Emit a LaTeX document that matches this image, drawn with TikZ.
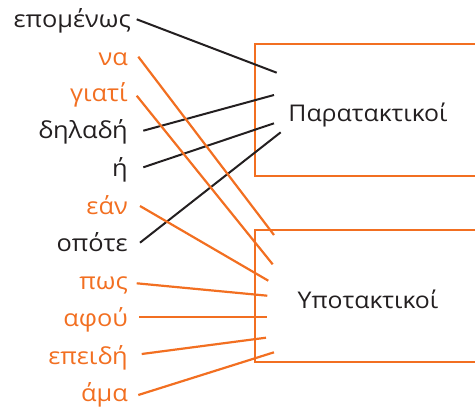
\documentclass[tikz,border=0pt]{standalone}
\usepackage{fontspec}
\setmainfont{Open Sans}[FakeStretch=1.08]
\definecolor{or}{HTML}{F26F21}
\definecolor{bk}{HTML}{231F20}
\begin{document}
\begin{tikzpicture}[x=1pt,y=-1pt,
  word/.style={anchor=base east,inner sep=0pt,font=\fontsize{23.5}{28}\selectfont},
  bw/.style={word,text=bk},
  ow/.style={word,text=or},
  bline/.style={draw=bk,line width=2pt},
  oline/.style={draw=or,line width=2.2pt},
  boxlbl/.style={text=bk,font=\fontsize{23}{28}\selectfont,inner sep=0pt}]
\useasboundingbox (0,0) rectangle (475,408);
% boxes
\draw[or,line width=2.2pt] (255,44) rectangle (480,175.7);
\draw[or,line width=2.2pt] (255,230.3) rectangle (480,362.3);
\node[boxlbl,anchor=base] (para) at (368,121.7) {Παρατακτικοί};
\node[boxlbl,anchor=base] (ypo) at (368,308) {Υποτακτικοί};
% words
\node[bw] (w1) at (131,27) {επομένως};
\node[ow] (w2) at (128,65) {να};
\node[ow] (w3) at (128,101) {γιατί};
\node[bw] (w4) at (128,138) {δηλαδή};
\node[bw] (w5) at (128,176) {ή};
\node[ow] (w6) at (128,214) {εάν};
\node[bw] (w7) at (128,251.5) {οπότε};
\node[ow] (w8) at (128,289.5) {πως};
\node[ow] (w9) at (128,326.5) {αφού};
\node[ow] (w10) at (128,364.5) {επειδή};
\node[ow] (w11) at (128,401.5) {άμα};
% connector ends
\coordinate (s1) at (136.7,19.3);  \coordinate (e1) at (276.7,72.7);
\coordinate (s4) at (143.3,130.7); \coordinate (e4) at (274,95);
\coordinate (s5) at (143.3,167.3); \coordinate (e5) at (274,123.3);
\coordinate (s7) at (140,242.7);   \coordinate (e7) at (280.7,132.3);
\coordinate (s2) at (138.3,56.7);  \coordinate (e2) at (274,235);
\coordinate (s3) at (136.7,95.7);  \coordinate (e3) at (272.7,264.3);
\coordinate (s6) at (140,206);     \coordinate (e6) at (268.3,280.7);
\coordinate (s8) at (136.7,283.3); \coordinate (e8) at (267.3,295.7);
\coordinate (s9) at (139.3,316.7); \coordinate (e9) at (267.3,316.7);
\coordinate (s10) at (141.7,354);  \coordinate (e10) at (266,337.7);
\coordinate (s11) at (138.3,395);  \coordinate (e11) at (274,352.3);
\draw[bline] (s1) -- (e1);
\draw[bline] (s4) -- (e4);
\draw[bline] (s5) -- (e5);
\draw[bline] (s7) -- (e7);
\draw[oline] (s2) -- (e2);
\draw[oline] (s3) -- (e3);
\draw[oline] (s6) -- (e6);
\draw[oline] (s8) -- (e8);
\draw[oline] (s9) -- (e9);
\draw[oline] (s10) -- (e10);
\draw[oline] (s11) -- (e11);
\end{tikzpicture}
\end{document}
